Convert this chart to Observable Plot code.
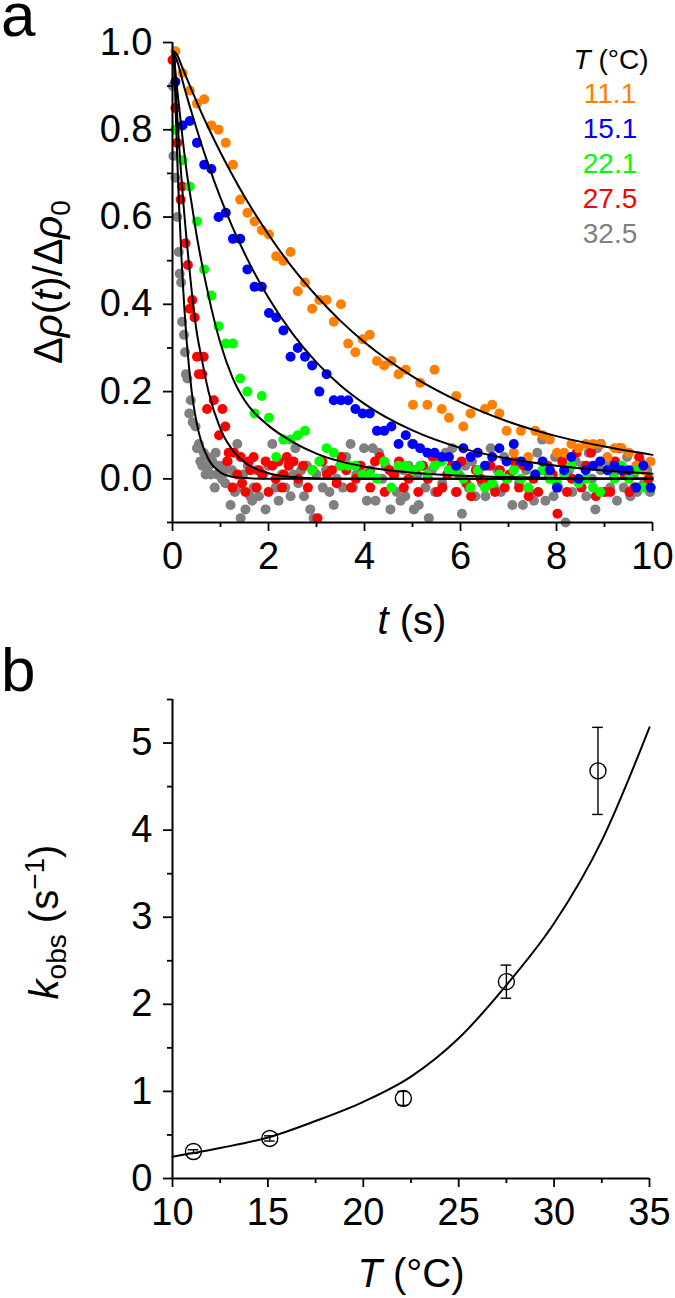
<!DOCTYPE html>
<html><head><meta charset="utf-8">
<script src="https://cdn.jsdelivr.net/npm/d3@7"></script>
<script src="https://cdn.jsdelivr.net/npm/@observablehq/plot@0.6"></script>
<style>
body{margin:0;background:#fff;}
#root{width:675px;height:1298px;position:relative;background:#fff;}
svg{display:block;}
</style></head><body><div id="root"></div>
<script>
// ---------- Panel a data ----------
const tSlow = [0.06,0.21,0.36,0.51,0.66,0.81,0.96,1.11,1.26,1.41,1.56,1.71,1.86,2.01,2.16,2.31,2.46,2.61,2.76,2.91,3.06,3.21,3.36,3.51,3.66,3.81,3.96,4.11,4.26,4.41,4.56,4.71,4.86,5.01,5.16,5.31,5.46,5.61,5.76,5.91,6.06,6.21,6.36,6.51,6.66,6.81,6.96,7.11,7.26,7.41,7.56,7.71,7.86,8.01,8.16,8.31,8.46,8.61,8.76,8.91,9.06,9.21,9.36,9.51,9.66,9.81,9.96];
const yOrange = [0.98,0.93,0.89,0.86,0.87,0.81,0.80,0.77,0.72,0.64,0.61,0.59,0.57,0.56,0.51,0.50,0.52,0.43,0.45,0.39,0.41,0.41,0.36,0.40,0.31,0.29,0.32,0.33,0.27,0.26,0.27,0.24,0.25,0.17,0.22,0.17,0.25,0.16,0.14,0.19,0.12,0.15,0.06,0.16,0.17,0.15,0.11,0.06,0.11,0.05,0.11,0.10,0.09,0.06,0.06,0.08,0.07,0.08,0.08,0.08,0.05,0.07,0.07,0.06,0.03,0.02,0.04];
const yBlue = [0.91,0.81,0.82,0.77,0.72,0.71,0.60,0.61,0.55,0.55,0.48,0.44,0.44,0.38,0.37,0.34,0.28,0.30,0.28,0.26,0.20,0.24,0.18,0.18,0.18,0.16,0.15,0.15,0.11,0.11,0.12,0.08,0.10,0.08,0.07,0.06,0.06,0.05,0.05,0.03,0.07,0.05,0.06,0.03,0.05,0.07,0.04,0.08,0.04,0.03,0.01,0.04,0.02,-0.02,0.02,0.05,0.00,0.02,0.03,0.04,0.02,0.03,0.02,0.02,-0.02,0.03,-0.02];
const yGreen = [0.80,0.73,0.67,0.59,0.48,0.42,0.35,0.31,0.31,0.23,0.20,0.15,0.19,0.14,0.05,0.09,0.09,0.10,0.11,0.02,0.04,0.07,0.06,0.03,0.03,0.03,0.01,0.01,0.00,0.04,-0.02,0.03,0.03,0.02,0.03,0.01,0.03,0.04,0.02,0.02,0.00,-0.02,0.02,-0.02,-0.01,0.01,0.00,0.02,0.00,-0.02,0.01,0.02,0.00,-0.01,0.01,0.03,-0.01,0.00,-0.02,-0.03,0.02,0.00,0.03,0.00,0.02,-0.02,-0.02];
const tRed = [0.00,0.06,0.10,0.17,0.20,0.27,0.32,0.36,0.41,0.46,0.51,0.55,0.62,0.65,0.72,0.86,0.97,1.04,1.10,1.14,1.17,1.28,1.35,1.42,1.45,1.52,1.59,1.69,1.80,1.94,2.08,2.21,2.32,2.42,
  1.25,1.62,1.75,1.88,2.00,2.15,2.28,2.38,
  2.52,2.62,2.72,2.82,2.92,3.02,3.12,3.22,3.32,3.42,3.52,3.62,3.72,3.82,3.92,4.02,4.12,4.22,4.32,4.42,4.52,4.62,4.72,4.82,4.92,5.02,5.12,5.22,5.32,5.42,5.52,5.62,5.72,5.82,5.92,6.02,6.12,6.22,6.32,6.42,6.52,6.62,6.72,6.82,6.92,7.02,7.12,7.22,7.32,7.42,7.52,7.62,7.72,7.82,7.92,8.02,8.12,8.22,8.32,8.42,8.52,8.62,8.72,8.82,8.92,9.02,9.12,9.22,9.32,9.42,9.52,9.62,9.72,9.82,9.92];
const yRed = [0.96,0.85,0.77,0.64,0.67,0.54,0.49,0.39,0.41,0.37,0.28,0.24,0.24,0.28,0.16,0.18,0.10,0.16,0.12,0.04,0.06,0.06,0.01,0.05,-0.01,-0.03,0.04,0.05,0.02,0.04,0.03,0.04,0.01,0.03,
  -0.02,0.02,-0.02,0.01,-0.03,0.00,-0.02,0.05,
  0.04,0.00,0.03,-0.02,0.02,-0.09,0.04,0.01,0.02,-0.01,0.05,0.02,-0.02,0.00,0.03,0.01,-0.02,0.04,0.05,-0.03,0.02,0.01,0.04,-0.02,0.00,0.02,-0.03,0.03,0.00,0.05,-0.03,-0.02,0.01,0.03,-0.03,0.04,-0.01,-0.04,0.02,0.00,-0.01,0.03,-0.03,0.02,-0.02,0.01,0.04,-0.02,0.03,-0.04,0.00,-0.03,0.02,0.03,0.01,-0.08,0.04,-0.03,0.00,0.06,-0.02,0.03,0.06,-0.04,0.08,-0.03,-0.03,0.04,0.07,0.01,-0.03,-0.02,0.05,0.03,0.00];
const tGray = [0.01,0.02,0.06,0.10,0.13,0.15,0.18,0.20,0.24,0.26,0.28,0.31,0.35,0.38,0.42,0.48,0.51,0.55,0.58,0.62,0.65,0.69,0.73,0.76,0.80,0.83,0.88,0.90,0.93,0.98,1.03,1.07,1.10,1.15,1.21,1.24,1.30,1.35,1.38,1.42,1.47,1.52,1.57,1.62,1.66,1.69,1.75,1.80,1.86,1.94,2.00,2.08,2.15,2.21,2.28,2.35,2.42,
  2.46,2.52,2.56,2.62,2.68,2.74,2.80,2.87,2.94,3.00,3.07,3.13,3.20,3.27,3.36,3.42,3.49,3.55,3.62,3.71,3.76,3.83,3.90,3.99,4.05,4.12,4.17,4.23,4.30,4.37,4.44,4.54,4.60,4.67,4.75,4.81,4.85,4.92,4.99,5.03,5.10,5.13,5.20,5.27,5.34,5.40,5.47,5.55,5.62,5.69,5.76,5.83,5.90,5.97,6.03,6.10,6.17,6.24,6.31,6.38,6.45,6.52,6.58,6.63,6.70,6.77,6.84,6.91,6.98,7.08,7.15,7.22,7.30,7.37,7.44,7.53,7.60,7.70,7.77,7.84,7.94,7.97,8.04,8.10,8.19,8.26,8.33,8.40,8.47,8.55,8.62,8.67,8.74,8.81,8.85,8.92,8.98,9.05,9.12,9.19,9.26,9.33,9.40,9.47,9.54,9.61,9.68,9.75,9.82,9.89,9.95];
const yGray = [0.90,0.74,0.69,0.60,0.52,0.47,0.45,0.36,0.33,0.29,0.24,0.23,0.15,0.18,0.13,0.12,0.07,0.08,0.04,0.03,0.06,0.01,0.05,0.03,0.01,0.04,-0.02,0.06,0.01,0.03,0.00,0.02,-0.01,0.04,-0.06,0.02,-0.03,0.08,-0.02,-0.09,0.01,-0.07,0.03,-0.04,-0.05,-0.02,0.02,-0.04,0.01,-0.07,0.03,0.08,-0.02,-0.05,0.01,-0.02,0.04,
  -0.04,0.01,0.07,-0.01,0.02,-0.04,0.03,-0.07,-0.09,0.01,0.04,-0.02,0.02,-0.03,-0.06,0.00,0.03,-0.02,0.05,0.08,-0.02,0.01,0.03,0.07,-0.05,0.02,0.07,-0.05,0.06,0.00,0.03,-0.07,0.01,-0.03,-0.05,0.02,-0.04,0.03,0.08,-0.07,0.01,-0.06,0.03,-0.02,-0.09,0.02,-0.03,0.04,-0.01,0.06,0.02,0.07,-0.03,0.01,-0.08,0.03,-0.02,0.04,-0.04,0.02,-0.01,-0.04,0.03,0.07,-0.02,0.02,-0.03,0.05,0.00,-0.06,0.03,-0.01,-0.06,0.02,-0.03,-0.05,0.06,0.09,-0.05,0.01,-0.04,0.05,-0.02,0.05,-0.10,0.02,-0.03,0.04,-0.01,0.03,-0.04,0.06,0.00,-0.07,0.07,0.02,-0.03,0.04,-0.02,0.01,-0.05,0.03,-0.02,0.05,-0.04,0.01,-0.03,0.04,-0.01,0.02,-0.03];
// fitted curves
const tFit = [0.03,0.1,0.2,0.3,0.4,0.5,0.6,0.75,1,1.25,1.5,2,2.5,3,3.5,4,5,6,7,8,9,10];
const fitOrange = [0.98,0.971,0.944,0.917,0.891,0.865,0.840,0.804,0.748,0.696,0.647,0.560,0.484,0.419,0.362,0.313,0.235,0.176,0.131,0.098,0.074,0.055];
const fitBlue = [0.975,0.957,0.916,0.876,0.839,0.803,0.768,0.719,0.644,0.577,0.517,0.415,0.333,0.267,0.214,0.172,0.111,0.071,0.046,0.030,0.019,0.012];
const fitGreen = [0.97,0.89,0.79,0.70,0.63,0.56,0.50,0.42,0.31,0.232,0.18,0.122,0.085,0.058,0.040,0.028,0.014,0.007,0.004,0.002,0.001,0.001];
const fitRed = [0.97,0.83,0.67,0.54,0.43,0.34,0.28,0.20,0.114,0.066,0.038,0.013,0.004,0.001,0,0,0,0,0,0,0,0];
const fitGray = [0.97,0.73,0.48,0.31,0.20,0.13,0.085,0.045,0.015,0.005,0.002,0,0,0,0,0,0,0,0,0,0,0];
const legendLabels = ["11.1","15.1","22.1","27.5","32.5"];
const legendColors = ["#ff8000","#0000ff","#00ff00","#ff0000","#808080"];
const ticksA_y = [0,0.2,0.4,0.6,0.8,1.0];
const minorA_y = [-0.1,0.1,0.3,0.5,0.7,0.9];
const ticksA_x = [0,2,4,6,8,10];
const minorA_x = [1,3,5,7,9];

// ---------- Panel b data ----------
const temps = [11.1,15.1,22.1,27.5,32.3];
const kobs = [0.31,0.46,0.92,2.26,4.68];
const kerr = [0.02,0.03,0.08,0.19,0.50];
const tempFit = [10,12.5,15,17.5,20,22.5,25,27.5,30,32.5,35];
const kFit = [0.25,0.35,0.47,0.66,0.88,1.17,1.61,2.22,2.93,3.88,5.18];
const ticksB_y = [0,1,2,3,4,5];
const minorB_y = [0.5,1.5,2.5,3.5,4.5,5.5];
const ticksB_x = [10,15,20,25,30,35];
const minorB_x = [12.5,17.5,22.5,27.5,32.5];

const FONT = "'Liberation Sans', Arial, Helvetica, sans-serif";
const pts = (ts, ys) => ts.map((t,i)=>({t, v: ys[i]}));

const series = [
  {t:tGray, y:yGray, c:"#808080"},
  {t:tRed, y:yRed, c:"#ff0000"},
  {t:tSlow, y:yOrange, c:"#ff8000"},
  {t:tSlow, y:yGreen, c:"#00ff00"},
  {t:tSlow, y:yBlue, c:"#0000ff"}
];
const fits = [fitOrange, fitBlue, fitGreen, fitRed, fitGray];

const axisStyle = {fontSize: 38, strokeWidth: 1.8, label: null};

const plotA = Plot.plot({
  width: 675, height: 650,
  marginLeft: 172, marginRight: 23, marginTop: 42, marginBottom: 128,
  style: {fontFamily: FONT, fontSize: "38px", background: "white", color: "black", overflow: "visible"},
  x: {domain: [0, 10]},
  y: {domain: [-0.1, 1.0]},
  marks: [
    ...series.map(s => Plot.dot(pts(s.t, s.y), {x: "t", y: "v", r: 5, fill: s.c, stroke: "none"})),
    ...fits.map(f => Plot.line(pts(tFit, f), {x: "t", y: "v", stroke: "black", strokeWidth: 2, curve: "monotone-x"})),
    Plot.ruleX([0], {strokeWidth: 2}),
    Plot.ruleY([-0.1], {strokeWidth: 2}),
    Plot.axisY({...axisStyle, ticks: ticksA_y, tickSize: 9, tickPadding: 11, tickFormat: d3.format(".1f")}),
    Plot.axisY({...axisStyle, ticks: minorA_y, tickSize: 5, tickFormat: () => ""}),
    Plot.axisX({...axisStyle, ticks: ticksA_x, tickSize: 9, tickPadding: 11, tickFormat: d3.format("d")}),
    Plot.axisX({...axisStyle, ticks: minorA_x, tickSize: 5, tickFormat: () => ""})
  ]
});

const plotB = Plot.plot({
  width: 675, height: 648,
  marginLeft: 172, marginRight: 26, marginTop: 49, marginBottom: 120,
  style: {fontFamily: FONT, fontSize: "38px", background: "white", color: "black", overflow: "visible"},
  x: {domain: [10, 35]},
  y: {domain: [0, 5.5]},
  marks: [
    Plot.line(tempFit.map((T,i)=>({T, k: kFit[i]})), {x: "T", y: "k", stroke: "black", strokeWidth: 2, curve: "monotone-x"}),
    Plot.ruleX(temps.map((T,i)=>({T, k: kobs[i], e: kerr[i]})), {x: "T", y1: d => d.k - d.e, y2: d => d.k + d.e, strokeWidth: 1.4}),
    Plot.ruleY(temps.map((T,i)=>({T, k: kobs[i], e: kerr[i]})), {y: d => d.k + d.e, x1: d => d.T - 0.28, x2: d => d.T + 0.28, strokeWidth: 1.4}),
    Plot.ruleY(temps.map((T,i)=>({T, k: kobs[i], e: kerr[i]})), {y: d => d.k - d.e, x1: d => d.T - 0.28, x2: d => d.T + 0.28, strokeWidth: 1.4}),
    Plot.dot(temps.map((T,i)=>({T, k: kobs[i]})), {x: "T", y: "k", r: 8, stroke: "black", strokeWidth: 1.4, fill: "none"}),
    Plot.ruleX([10], {strokeWidth: 2}),
    Plot.ruleY([0], {strokeWidth: 2}),
    Plot.axisY({...axisStyle, ticks: ticksB_y, tickSize: 9, tickPadding: 11, tickFormat: d3.format("d")}),
    Plot.axisY({...axisStyle, ticks: minorB_y, tickSize: 5, tickFormat: () => ""}),
    Plot.axisX({...axisStyle, ticks: ticksB_x, tickSize: 9, tickPadding: 11, tickFormat: d3.format("d")}),
    Plot.axisX({...axisStyle, ticks: minorB_x, tickSize: 5, tickFormat: () => ""})
  ]
});

const root = document.getElementById("root");
root.appendChild(plotA);
root.appendChild(plotB);

function addText(svg, attrs, parts) {
  const t = d3.select(svg).append("text")
    .attr("font-family", FONT).attr("fill", "black").attr("text-anchor", "start");
  for (const [k, v] of Object.entries(attrs)) t.attr(k, v);
  for (const p of parts) {
    const s = t.append("tspan").text(p.text);
    if (p.italic) s.attr("font-style", "italic");
    if (p.size) s.attr("font-size", p.size);
    if (p.dy) s.attr("dy", p.dy);
    if (p.fill) s.attr("fill", p.fill);
  }
  return t;
}

// Panel a labels
addText(plotA, {x: 1, y: 36, "font-size": 62}, [{text: "a"}]);
addText(plotA, {x: 412, y: 634, "font-size": 40, "text-anchor": "middle"},
  [{text: "t", italic: true}, {text: " (s)"}]);
addText(plotA, {transform: "translate(62,282) rotate(-90)", "font-size": 40, "text-anchor": "middle"},
  [{text: "Δ"}, {text: "ρ", italic: true}, {text: "("}, {text: "t", italic: true}, {text: ")/Δ"}, {text: "ρ", italic: true},
   {text: "0", size: 28, dy: "0.3em"}]);
// legend
addText(plotA, {x: 611, y: 69, "font-size": 28, "text-anchor": "middle"},
  [{text: "T", italic: true}, {text: " (°C)"}]);
legendLabels.forEach((lab, i) => {
  addText(plotA, {x: 610, y: 103 + 35 * i, "font-size": 28, "text-anchor": "middle", fill: legendColors[i]}, [{text: lab}]);
});

// Panel b labels
addText(plotB, {x: 1, y: 41, "font-size": 62}, [{text: "b"}]);
addText(plotB, {x: 411, y: 637, "font-size": 40, "text-anchor": "middle"},
  [{text: "T", italic: true}, {text: " (°C)"}]);
addText(plotB, {transform: "translate(58,272) rotate(-90)", "font-size": 40, "text-anchor": "middle"},
  [{text: "k", italic: true}, {text: "obs", size: 28, dy: "0.3em"}, {text: " (s", dy: "-0.21em"}, {text: "−1", size: 28, dy: "-0.5em"}, {text: ")", dy: "0.35em"}]);
</script></body></html>
